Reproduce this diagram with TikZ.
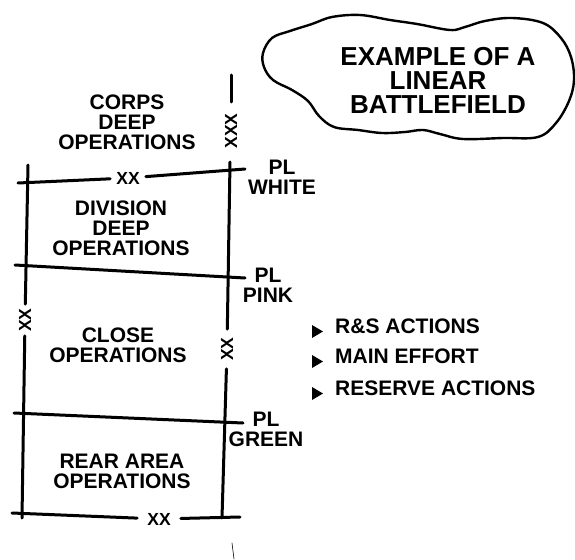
\documentclass[tikz,border=0pt]{standalone}
\usepackage{fontspec}
\setmainfont{Liberation Sans}
\begin{document}
\begin{tikzpicture}[x=1pt, y=-1pt, every node/.style={font=\bfseries\fontsize{21}{20}\selectfont, inner sep=0pt}, line cap=round, line join=round]
  \tikzset{pline/.style={draw=black, line width=3pt}, xxmark/.style={font=\bfseries\fontsize{17.5}{17}\selectfont, inner sep=5pt}, area/.style={align=center}, tag/.style={align=center}}
  \useasboundingbox (0,0) rectangle (575,559);

  % cloud title
  \draw[line width=2.4pt] plot[smooth cycle, tension=.6] coordinates {(263,53) (272,38) (290,31) (312,24) (332,17) (360,15) (390,20) (417,24) (450,30) (465,27) (485,21) (512,18) (543,23) (561,38) (571,57) (574,80) (569,101) (556,123) (538,137) (503,138) (463,139) (440,134) (423,130) (405,132) (382,133) (358,130) (334,127) (319,116) (308,101) (292,90) (273,80) (264,67)};
  \node[font=\bfseries\fontsize{26}{24}\selectfont, align=center] (title) at (438,80) {EXAMPLE OF A\\LINEAR\\BATTLEFIELD};

  % boundaries
  \coordinate (rt0) at (231,75); \coordinate (rt1) at (231,102);
  \coordinate (rt) at (230,162); \coordinate (rb) at (222,518);
  \coordinate (lt) at (28,165);  \coordinate (lb) at (22,518);
  \node[xxmark, rotate=90, inner sep=12pt] (xxxr) at (231,131) {XXX};
  \node[xxmark, rotate=90, inner sep=8pt] (xxr) at (227,349) {XX};
  \node[xxmark, rotate=90, inner sep=4pt] (xxl) at (25,320) {XX};
  \draw[pline] (rt0) -- (rt1);
  \draw[pline] (rt) -- (xxr) -- (rb);
  \draw[pline] (lt) -- (xxl) -- (lb);

  % phase lines
  \coordinate (wl) at (18,183); \coordinate (wr) at (245,169);
  \coordinate (pl) at (15,265); \coordinate (pr) at (245,278);
  \coordinate (gl) at (14,413); \coordinate (gr) at (243,423);
  \coordinate (bl) at (12,513); \coordinate (br) at (240,517);
  \node[xxmark, inner sep=6pt] (xxw) at (128,178) {XX};
  \node[xxmark, inner sep=10pt] (xxb) at (159,519) {XX};
  \draw[pline] (wl) -- (xxw) -- (wr);
  \draw[pline] (pl) -- (pr);
  \draw[pline] (gl) -- (gr);
  \draw[pline] (bl) -- (xxb) -- (br);
  \node[tag] (plw) at (282,177) {PL\\WHITE};
  \node[tag] (plp) at (268,285) {PL\\PINK};
  \node[tag] (plg) at (266,429) {PL\\GREEN};

  % areas
  \node[area] (corps) at (127,122) {CORPS\\DEEP\\OPERATIONS};
  \node[area] (div) at (121,228) {DIVISION\\DEEP\\OPERATIONS};
  \node[area] (close) at (118,345) {CLOSE\\OPERATIONS};
  \node[area] (rear) at (122,471) {REAR AREA\\OPERATIONS};

  % actions
  \foreach \y/\n/\t in {333/rs/R\&S ACTIONS, 363/me/MAIN EFFORT, 395/ra/RESERVE ACTIONS} {
    \fill (312,\y-8) -- (323,\y-1.5) -- (312,\y+5) -- cycle;
    \node[anchor=base west] (\n) at (335,\y) {\t};
  }

  \draw[line width=.6pt] (232,543) -- (234,559);
\end{tikzpicture}
\end{document}
